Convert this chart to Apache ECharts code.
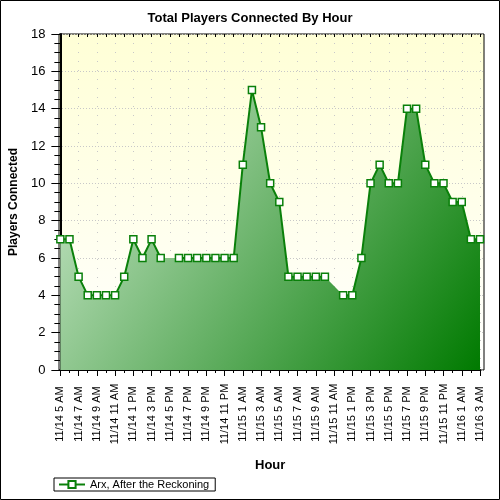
<!DOCTYPE html>
<html>
<head>
<meta charset="utf-8">
<script src="https://cdn.jsdelivr.net/npm/echarts@6/dist/echarts.min.js"></script>
<style>
  html, body { margin: 0; padding: 0; background: #fff; }
  #chart-container { width: 500px; height: 500px; }
</style>
</head>
<body>
<div id="chart-container"></div>
<script>
var categories = [
  "11/14 5 AM", "11/14 6 AM", "11/14 7 AM", "11/14 8 AM", "11/14 9 AM", "11/14 10 AM",
  "11/14 11 AM", "11/14 12 PM", "11/14 1 PM", "11/14 2 PM", "11/14 3 PM", "11/14 4 PM",
  "11/14 5 PM", "11/14 6 PM", "11/14 7 PM", "11/14 8 PM", "11/14 9 PM", "11/14 10 PM",
  "11/14 11 PM", "11/15 12 AM", "11/15 1 AM", "11/15 2 AM", "11/15 3 AM", "11/15 4 AM",
  "11/15 5 AM", "11/15 6 AM", "11/15 7 AM", "11/15 8 AM", "11/15 9 AM", "11/15 10 AM",
  "11/15 11 AM", "11/15 12 PM", "11/15 1 PM", "11/15 2 PM", "11/15 3 PM", "11/15 4 PM",
  "11/15 5 PM", "11/15 6 PM", "11/15 7 PM", "11/15 8 PM", "11/15 9 PM", "11/15 10 PM",
  "11/15 11 PM", "11/16 12 AM", "11/16 1 AM", "11/16 2 AM", "11/16 3 AM"
];
// null = no sample for that hour (area still bridges it, line does not)
var players = [
  7, 7, 5, 4, 4, 4, 4, 5, 7, 6, 7, 6,
  null, 6, 6, 6, 6, 6, 6, 6, 11, 15, 13, 10,
  9, 5, 5, 5, 5, 5, null, 4, 4, 6, 10, 11,
  10, 10, 14, 14, 11, 10, 10, 9, 9, 7, 7
];
var seriesName = "Arx, After the Reckoning";

var dom = document.getElementById("chart-container");
var myChart = echarts.init(dom, null, { renderer: "canvas" });
var font = 'Arial, "Liberation Sans", sans-serif';
var green = "#0a800a";

var option = {
  animation: false,
  textStyle: { fontFamily: font, color: "#000" },
  title: {
    text: "Total Players Connected By Hour",
    left: "center",
    top: 7,
    textStyle: { fontSize: 13, fontWeight: "bold", color: "#000", fontFamily: font }
  },
  graphic: [{
    type: "rect",
    shape: { x: 0.5, y: 0.5, width: 499, height: 499 },
    style: { fill: null, stroke: "#000", lineWidth: 1 },
    silent: true
  }],
  legend: {
    data: [seriesName],
    left: 54,
    top: 478,
    padding: [1, 6, 1, 4],
    borderColor: "#000",
    borderWidth: 1,
    borderRadius: 0,
    backgroundColor: "#fff",
    itemWidth: 26,
    itemHeight: 9,
    itemGap: 6,
    textStyle: { fontSize: 11, color: "#000", fontFamily: font, lineHeight: 11 }
  },
  grid: [
    { left: 59, right: 20, top: 34, bottom: 130 },
    {
      left: 59, right: 16, top: 34, bottom: 130, show: true,
      borderColor: "#000", borderWidth: 1,
      backgroundColor: {
        type: "linear", x: 0, y: 0, x2: 0, y2: 1,
        colorStops: [{ offset: 0, color: "#ffffd6" }, { offset: 1, color: "#ffffff" }]
      }
    }
  ],
  xAxis: [
    {
      type: "category", gridIndex: 0, data: categories, boundaryGap: false,
      axisLine: { lineStyle: { color: "#000", width: 2 } },
      axisTick: { interval: 0, length: 3, lineStyle: { color: "#000" } },
      axisLabel: { interval: 1, rotate: 90, align: "center", verticalAlign: "middle",
        fontSize: 11, color: "#000", margin: 44 },
      splitLine: { show: true, interval: 1, lineStyle: { color: "#c8c8c8", type: [1, 8] } },
      name: "Hour", nameLocation: "middle", nameGap: 89,
      nameTextStyle: { fontSize: 13, fontWeight: "bold", color: "#000" }
    },
    {
      type: "category", gridIndex: 0, data: categories, boundaryGap: false, position: "bottom",
      axisLine: { show: false },
      axisTick: { interval: 1, length: 6, lineStyle: { color: "#000" } },
      axisLabel: { show: false }, splitLine: { show: false }
    },
    {
      type: "category", gridIndex: 0, data: categories, boundaryGap: false, position: "top",
      axisLine: { show: false },
      axisTick: { interval: 0, length: 3, inside: true, lineStyle: { color: "#000" } },
      axisLabel: { show: false }, splitLine: { show: false }
    },
    { type: "value", gridIndex: 1, show: false }
  ],
  yAxis: [
    {
      type: "value", gridIndex: 0, min: 0, max: 18, interval: 2,
      axisLine: { show: true, lineStyle: { color: "#000", width: 2 } },
      axisTick: { show: true, length: 9, lineStyle: { color: "#000" } },
      minorTick: { show: true, splitNumber: 4, length: 6, lineStyle: { color: "#000" } },
      axisLabel: { fontSize: 13, color: "#000", margin: 15 },
      splitLine: { show: false },
      name: "Players Connected", nameLocation: "middle", nameGap: 32,
      nameTextStyle: { fontSize: 12, fontWeight: "bold", color: "#000" }
    },
    {
      type: "value", gridIndex: 1, min: 0, max: 18, interval: 2, position: "right",
      axisLine: { show: false },
      axisTick: { show: true, inside: true, length: 5, lineStyle: { color: "#000" } },
      minorTick: { show: true, splitNumber: 4, length: 3, lineStyle: { color: "#000" } },
      axisLabel: { show: false },
      splitLine: { show: true, lineStyle: { color: "#c8c8c8", type: [1, 2] } }
    }
  ],
  series: [
    {
      name: "area",
      type: "line",
      xAxisIndex: 0, yAxisIndex: 0,
      data: players,
      connectNulls: true,
      showSymbol: false,
      symbol: "none",
      lineStyle: { width: 0 },
      areaStyle: {
        opacity: 1,
        color: {
          type: "linear", x: 0, y: 0, x2: 1, y2: 1,
          colorStops: [{ offset: 0, color: "#d2ebd2" }, { offset: 1, color: "#007a00" }]
        }
      },
      silent: true,
      z: 2
    },
    {
      name: seriesName,
      type: "line",
      xAxisIndex: 0, yAxisIndex: 0,
      data: players,
      connectNulls: false,
      symbol: "rect",
      symbolSize: 7,
      showAllSymbol: true,
      lineStyle: { color: green, width: 2 },
      itemStyle: { color: "#fff", borderColor: green, borderWidth: 1.5 },
      z: 3
    }
  ]
};

myChart.setOption(option);
window.addEventListener("resize", myChart.resize);
</script>
</body>
</html>
